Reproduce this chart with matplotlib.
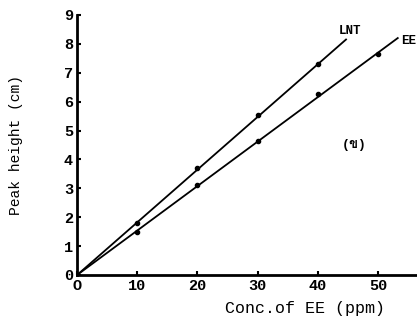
import matplotlib
matplotlib.use("Agg")
import matplotlib.pyplot as plt
from matplotlib import font_manager
from matplotlib.ft2font import FT2Font

# concentration of EE (ppm)
conc = [0, 10, 20, 30, 40]
conc_ee = [0, 10, 20, 30, 40, 50]
lnt_height = [0, 1.8, 3.7, 5.55, 7.3]
ee_height = [0, 1.5, 3.1, 4.65, 6.25, 7.65]

# fitted line end points
lnt_line_x = [0, 44.7]
lnt_line_y = [0, 8.15]
ee_line_x = [0, 53.3]
ee_line_y = [0, 8.2]

xticks = [0, 10, 20, 30, 40, 50]
xticklabels = ["O", "10", "20", "30", "40", "50"]
yticks = list(range(0, 10))


def find_family(char):
    """look for an installed family that has the glyph"""
    for f in font_manager.fontManager.ttflist:
        try:
            if FT2Font(f.fname).get_char_index(ord(char)):
                return f.name
        except Exception:
            pass
    return None


thai = find_family("ข")
families = ['Liberation Mono', 'DejaVu Sans Mono', 'DejaVu Sans']
if thai:
    families.insert(1, thai)
plt.rcParams['font.family'] = families

fig = plt.figure(figsize=(4.17, 3.25), dpi=100)
ax = fig.add_axes([0.185, 0.154, 0.815, 0.80])

ax.plot(lnt_line_x, lnt_line_y, color="black", lw=1.3)
ax.plot(ee_line_x, ee_line_y, color="black", lw=1.3)
ax.plot(conc[1:], lnt_height[1:], "o", color="black", ms=3)
ax.plot(conc_ee[1:], ee_height[1:], "o", color="black", ms=3)

ax.set_xlim(0, 56.5)
ax.set_ylim(0, 9)
ax.spines['top'].set_visible(False)
ax.spines['right'].set_visible(False)
ax.spines['left'].set_linewidth(2)
ax.spines['bottom'].set_linewidth(2)

ax.set_xticks(xticks)
ax.set_xticklabels(xticklabels, fontsize=11, fontweight="bold")
ax.set_yticks(yticks)
ax.set_yticklabels([str(v) for v in yticks], fontsize=11, fontweight="bold")
ax.tick_params(axis="both", direction="in", length=3, width=1.5, pad=3)

ax.set_xlabel("Conc.of EE (ppm)", fontsize=12)
ax.xaxis.set_label_coords(0.67, -0.1)
ax.set_ylabel("Peak height (cm)", fontsize=10.5)
ax.yaxis.set_label_coords(-0.16, 0.5)

ax.text(43.5, 8.35, "LNT", fontsize=9, fontweight="bold")
ax.text(53.9, 8.0, "EE", fontsize=9, fontweight="bold", clip_on=False)
ax.text(44.0, 4.4, "(ข)", fontsize=9.5, fontweight="bold")

fig.savefig("out.png", dpi=100)
